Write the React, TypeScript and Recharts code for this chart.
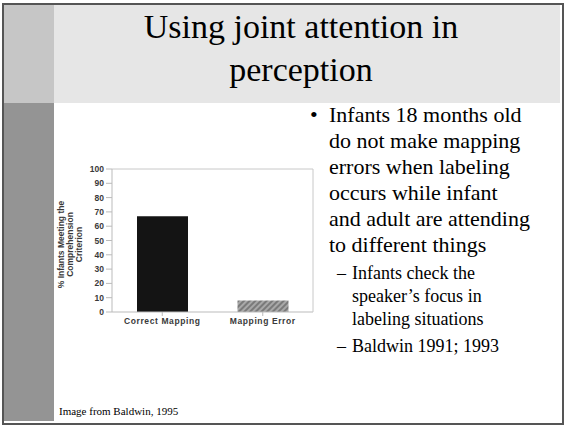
import React from 'react'
import {
  BarChart,
  XAxis,
  YAxis,
  Bar,
  Cell,
  ReferenceLine
} from 'recharts'

const categories = ['Correct Mapping', 'Mapping Error']
const percentMeeting = [67, 8]
const yTicks = [0, 10, 20, 30, 40, 50, 60, 70, 80, 90, 100]
const barFills = ['#141414', 'url(#hatch)']

const titleLines = ['Using joint attention in', 'perception']
const bullet = 'Infants 18 months old do not make mapping errors when labeling occurs while infant and adult are attending to different things'
const subBullets = ['Infants check the speaker’s focus in labeling situations', 'Baldwin 1991; 1993']
const yLabelLines = ['% Infants Meeting the', 'Comprehension', 'Criterion']

const data = categories.map((name, i) => ({ name, value: percentMeeting[i] }))

const tickFont = {
  fontFamily: '"Liberation Sans", Arial, sans-serif',
  fontSize: 8.5,
  fontWeight: 700,
  fill: '#3a3a3a'
}

const YLabel = (props: any) => {
  const { viewBox } = props
  const cy = viewBox.y + viewBox.height / 2 + 4
  return (
    <g>
      {yLabelLines.map((line, i) => (
        <text
          key={line}
          x={0}
          y={0}
          transform={`translate(${7 + i * 9},${cy}) rotate(-90)`}
          textAnchor="middle"
          dominantBaseline="central"
          {...tickFont}
        >
          {line}
        </text>
      ))}
    </g>
  )
}

const App: React.FC = () => {
  const serif = '"Liberation Serif", "Times New Roman", serif'

  return (
    <div style={{ position: 'absolute', left: 0, top: 0, width: 564, height: 427, background: '#fff', fontFamily: serif, overflow: 'hidden' }}>
      {/* frame */}
      <div style={{ position: 'absolute', left: 2, top: 3, width: 558, height: 418, border: '2px solid #555' }} />
      <div style={{ position: 'absolute', left: 4, top: 5, width: 50, height: 98, background: '#c6c6c6' }} />
      <div style={{ position: 'absolute', left: 54, top: 5, width: 506, height: 98, background: '#e6e6e6' }} />
      <div style={{ position: 'absolute', left: 4, top: 103, width: 50, height: 318, background: '#949494' }} />

      <div style={{ position: 'absolute', left: 54, top: 5, width: 494, textAlign: 'center', fontSize: 34, lineHeight: '43px', color: '#000' }}>
        {titleLines.map(l => <div key={l}>{l}</div>)}
      </div>

      <div style={{ position: 'absolute', left: 54, top: 150, width: 270, height: 200 }}>
        <BarChart
          width={270}
          height={200}
          data={data}
          margin={{ top: 19, right: 10, bottom: 8, left: 0 }}
          barCategoryGap={0}
        >
          <defs>
            <pattern id="hatch" width="4" height="4" patternUnits="userSpaceOnUse" patternTransform="rotate(45)">
              <rect width="4" height="4" fill="#a8a8a8" />
              <rect width="2" height="4" fill="#7a7a7a" />
            </pattern>
          </defs>
          <XAxis
            dataKey="name"
            tick={{ ...tickFont, letterSpacing: 0.6 }}
            tickLine={{ stroke: '#bbb' }}
            tickSize={4}
            axisLine={{ stroke: '#bbb' }}
            height={30}
            interval={0}
          />
          <YAxis
            yAxisId="l"
            width={58}
            domain={[0, 100]}
            ticks={yTicks}
            interval={0}
            tick={tickFont}
            tickLine={{ stroke: '#bbb' }}
            tickSize={6}
            axisLine={{ stroke: '#bbb' }}
            label={<YLabel />}
          />
          <YAxis
            yAxisId="r"
            orientation="right"
            width={1}
            domain={[0, 100]}
            tick={false}
            tickLine={false}
            axisLine={{ stroke: '#c8c8c8' }}
          />
          <ReferenceLine yAxisId="l" y={100} stroke="#c8c8c8" />
          <Bar yAxisId="l" dataKey="value" barSize={51} isAnimationActive={false}>
            {data.map((d, i) => (
              <Cell key={d.name} fill={barFills[i]} />
            ))}
          </Bar>
        </BarChart>
      </div>

      <div style={{ position: 'absolute', left: 310, top: 102, width: 250, fontSize: 22, lineHeight: '26px', color: '#000' }}>
        <div style={{ display: 'flex' }}>
          <span style={{ width: 19, flex: 'none' }}>•</span>
          <span style={{ width: 203 }}>{bullet}</span>
        </div>
        <div style={{ marginTop: 4, fontSize: 18, lineHeight: '23px' }}>
          {subBullets.map(s => (
            <div key={s} style={{ display: 'flex', marginBottom: 4 }}>
              <span style={{ width: 15, marginLeft: 27, flex: 'none' }}>–</span>
              <span style={{ width: 165 }}>{s}</span>
            </div>
          ))}
        </div>
      </div>

      <div style={{ position: 'absolute', left: 59, top: 405, fontSize: 11, color: '#000' }}>Image from Baldwin, 1995</div>
    </div>
  )
}

export default App
